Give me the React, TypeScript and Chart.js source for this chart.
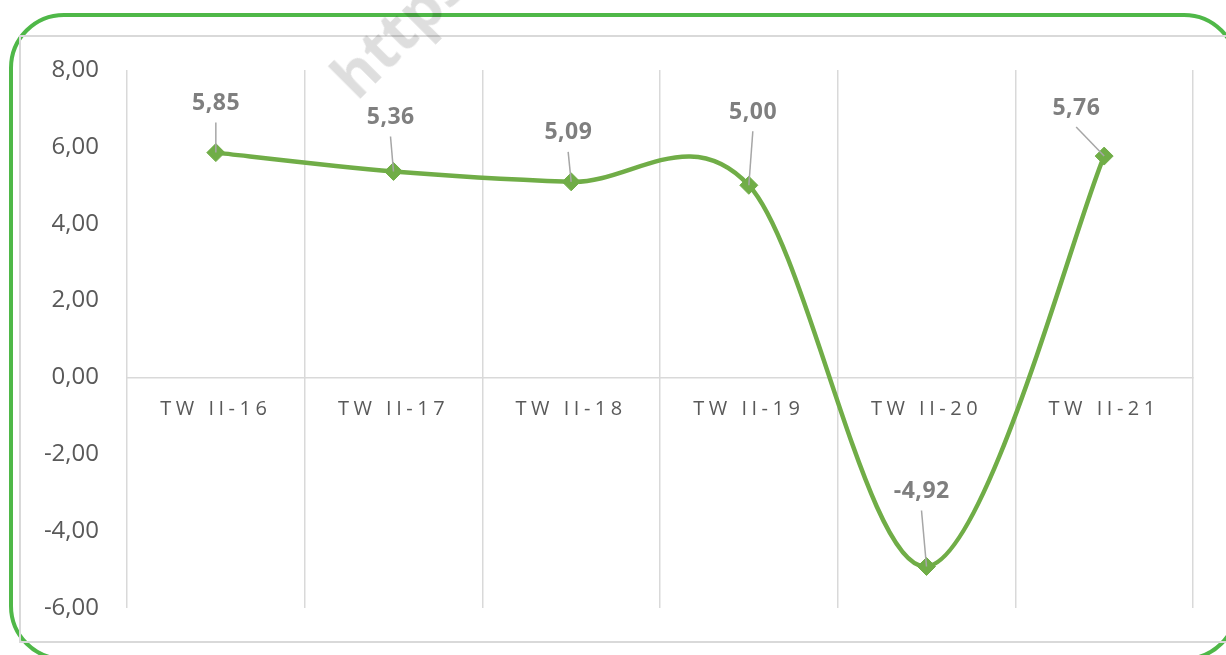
import React, { useEffect, useRef } from 'react';
import { Chart, registerables, CategoryScale } from 'chart.js';

Chart.register(...registerables);

// Quarterly growth (%), second quarter of each year
const quarters = ['TW II-16', 'TW II-17', 'TW II-18', 'TW II-19', 'TW II-20', 'TW II-21'];
const growth = [5.85, 5.36, 5.09, 5.0, -4.92, 5.76];

// Value axis range
const yMin = -6;
const yMax = 8;
const yStep = 2;

// Where each value label sits relative to its point (dx, dy in px)
const labelShift: [number, number][] = [
  [0, -49],
  [-3, -54],
  [-3, -49],
  [4, -73],
  [-5, -75],
  [-28, -48],
];

const fmt = (v: number) => v.toFixed(2).replace('.', ',');

// Category axis whose labels are drawn with extra letter spacing
class SpacedCategoryScale extends CategoryScale {
  static id = 'spacedCategory';
  drawLabels(area: any) {
    const ctx = (this as any).ctx as CanvasRenderingContext2D;
    ctx.save();
    (ctx as any).letterSpacing = '4.5px';
    super.drawLabels(area);
    ctx.restore();
  }
}
Chart.register(SpacedCategoryScale as any);

// Spreadsheet-style smoothing: Catmull-Rom control points (one sixth of the
// neighbour-to-neighbour vector) instead of Chart.js's distance-weighted spline.
const smoothLine = {
  id: 'smoothLine',
  beforeDatasetDraw(chart: any, args: any) {
    const meta = args.meta;
    const pts = meta.data;
    const n = pts.length;
    for (let i = 0; i < n; i++) {
      const prev = pts[Math.max(i - 1, 0)];
      const next = pts[Math.min(i + 1, n - 1)];
      const cur = pts[i];
      const dx = (next.x - prev.x) / 6;
      const dy = (next.y - prev.y) / 6;
      cur.cp1x = cur.x - dx;
      cur.cp1y = cur.y - dy;
      cur.cp2x = cur.x + dx;
      cur.cp2y = cur.y + dy;
    }
    meta.dataset._pointsUpdated = true;
    meta.dataset._path = undefined;
  },
};

// Value labels with leader lines pointing at each marker
const valueLabels = {
  id: 'valueLabels',
  afterDatasetsDraw(chart: any) {
    const ctx: CanvasRenderingContext2D = chart.ctx;
    const meta = chart.getDatasetMeta(0);
    meta.data.forEach((pt: any, i: number) => {
      const [dx, dy] = labelShift[i];
      const lx = pt.x + dx;
      const ly = pt.y + dy;
      ctx.save();
      ctx.strokeStyle = '#a6a6a6';
      ctx.lineWidth = 1.5;
      ctx.beginPath();
      ctx.moveTo(lx, ly + 19);
      ctx.lineTo(pt.x, pt.y);
      ctx.stroke();
      ctx.fillStyle = '#7f7f7f';
      ctx.font = 'bold 23px "Open Sans"';
      (ctx as any).letterSpacing = '0.5px';
      ctx.textAlign = 'center';
      ctx.textBaseline = 'middle';
      ctx.fillText(fmt(growth[i]), lx + 0.25, ly);
      ctx.restore();
    });
  },
};

export default function App() {
  const canvasRef = useRef<HTMLCanvasElement | null>(null);

  useEffect(() => {
    if (!canvasRef.current) return;
    const chart = new Chart(canvasRef.current, {
      type: 'line',
      data: {
        labels: quarters,
        datasets: [
          {
            data: growth,
            borderColor: '#70ad47',
            borderWidth: 4.5,
            tension: 0.4,
            pointStyle: 'rectRot',
            pointRadius: 9,
            pointBackgroundColor: '#70ad47',
            pointBorderColor: '#70ad47',
            pointBorderWidth: 1,
            fill: false,
            clip: false as any,
          },
        ],
      },
      options: {
        responsive: false,
        animation: false,
        layout: { padding: { left: 0, right: 33, top: 70, bottom: 47 } },
        plugins: {
          legend: { display: false },
          tooltip: { enabled: false },
        },
        scales: {
          x: {
            type: 'spacedCategory' as any,
            position: { y: 0 } as any,
            offset: true,
            grid: {
              display: true,
              offset: true,
              color: '#d9d9d9',
              lineWidth: 1.5,
              drawTicks: false,
            },
            border: { display: true, color: '#d9d9d9', width: 1.5 },
            ticks: {
              color: '#595959',
              font: { family: '"Open Sans"', size: 20 },
              padding: 20,
              maxRotation: 0,
              autoSkip: false,
            },
          },
          y: {
            min: yMin,
            max: yMax,
            ticks: {
              stepSize: yStep,
              color: '#595959',
              font: { family: '"Open Sans"', size: 24 },
              padding: 28,
              callback: (v: any) => fmt(Number(v)),
            },
            grid: { display: false, drawTicks: false },
            border: { display: false },
            afterFit: (s: any) => {
              s.width = 127;
            },
          },
        },
      },
      plugins: [smoothLine, valueLabels],
    });
    return () => chart.destroy();
  }, []);

  return (
    <div
      style={{
        position: 'fixed',
        left: 0,
        top: 0,
        width: 1226,
        height: 655,
        overflow: 'hidden',
        background: '#ffffff',
      }}
    >
      <div
        style={{
          position: 'absolute',
          left: 9,
          top: 13,
          width: 1230,
          height: 648,
          boxSizing: 'border-box',
          border: '4.5px solid #4fb848',
          borderRadius: 55,
        }}
      />
      <div
        style={{
          position: 'absolute',
          left: 19,
          top: 35,
          width: 1222,
          height: 608,
          boxSizing: 'border-box',
          border: '2px solid #d9d9d9',
        }}
      />
      <canvas
        ref={canvasRef}
        width={1226}
        height={655}
        style={{ position: 'absolute', left: 0, top: 0 }}
      />
      <div
        style={{
          position: 'absolute',
          left: 362,
          top: 47,
          height: 60,
          lineHeight: '60px',
          fontFamily: '"Open Sans"',
          fontWeight: 700,
          fontSize: 60,
          color: 'rgba(0,0,0,0.13)',
          whiteSpace: 'nowrap',
          transformOrigin: '0 100%',
          transform: 'rotate(-45deg)',
          pointerEvents: 'none',
        }}
      >
        https://
      </div>
    </div>
  );
}
